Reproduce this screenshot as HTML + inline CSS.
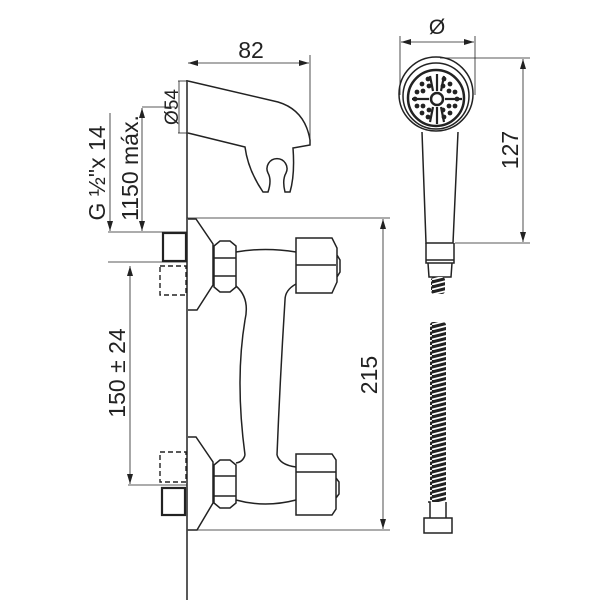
<!DOCTYPE html>
<html><head><style>html,body{margin:0;padding:0;background:#fff}svg{display:block}</style></head>
<body>
<svg width="600" height="600" viewBox="0 0 600 600" xmlns="http://www.w3.org/2000/svg" font-family="Liberation Sans, sans-serif">
<defs>
<marker id="a" viewBox="0 0 10 6" refX="10" refY="3" markerWidth="10" markerHeight="6" orient="auto-start-reverse" markerUnits="userSpaceOnUse"><path d="M0,0L10,3L0,6z" fill="#222"/></marker>
<pattern id="hz" width="16" height="5" patternUnits="userSpaceOnUse"><rect width="16" height="5" fill="#222"/><path d="M0,4.5L16,0.5" stroke="#fff" stroke-width="1.8"/></pattern>
</defs>
<g fill="none" stroke="#222" stroke-width="1.2">
<line x1="187" y1="80" x2="187" y2="600" stroke-width="1.5"/>
<line x1="310" y1="55" x2="310" y2="145" stroke-width="0.8"/>
<line x1="188" y1="63" x2="309" y2="63" stroke-width="0.8" marker-start="url(#a)" marker-end="url(#a)"/>
<path d="M188,81 L278,102 Q305,110 310,140 L310,145 L293,148 Q295,175 290,192 L285,192 Q282,180 286,173 A10,10 0 1 0 268,173 Q272,180 268,192 L263,192 Q248,170 245,147 L188,133" stroke-width="1.5"/>
<line x1="178" y1="81" x2="188" y2="81" stroke-width="0.8"/>
<line x1="178" y1="133" x2="188" y2="133" stroke-width="0.8"/>
<line x1="179" y1="81" x2="179" y2="133" stroke-width="0.8"/>
<line x1="142" y1="107" x2="175" y2="107" stroke-width="0.8"/>
<line x1="142" y1="108" x2="142" y2="231" stroke-width="0.8" marker-start="url(#a)" marker-end="url(#a)"/>
<line x1="110" y1="113" x2="110" y2="231" stroke-width="0.8" marker-end="url(#a)"/>
<line x1="108" y1="232" x2="187" y2="232" stroke-width="0.8"/>
<line x1="108" y1="262" x2="187" y2="262" stroke-width="0.8"/>
<line x1="130" y1="266" x2="130" y2="484" stroke-width="0.8" marker-start="url(#a)" marker-end="url(#a)"/>
<line x1="128" y1="485" x2="187" y2="485" stroke-width="0.8"/>
<line x1="187" y1="218" x2="390" y2="218" stroke-width="0.8"/>
<line x1="187" y1="530" x2="390" y2="530" stroke-width="0.8"/>
<line x1="383" y1="219" x2="383" y2="529" stroke-width="0.8" marker-start="url(#a)" marker-end="url(#a)"/>
<rect x="163" y="233" width="23" height="28" stroke-width="2.2"/>
<rect x="160" y="266" width="26" height="29" stroke-dasharray="5,3" stroke-width="1.4"/>
<rect x="160" y="452" width="26" height="30" stroke-dasharray="5,3" stroke-width="1.4"/>
<rect x="162" y="488" width="23" height="27" stroke-width="2.2"/>
<path d="M188,219 L196,219 L213,244 L213,285 L197,310 L188,310" stroke-width="1.5"/>
<path d="M214,246 L220,241 L230,241 L236,246 L236,287 L230,292 L220,292 L214,287 Z M214,258 L236,258 M214,276 L236,276" stroke-width="1.5"/>
<path d="M236,252 Q265,247 296,252 M236,286 Q250,298 245,320 M296,284 Q285,290 285,300" stroke-width="1.5"/>
<path d="M296,238 L332,238 L337,248 L337,282 L332,293 L296,293 Z M296,265 L336,265 M337,255 L340,260 L340,272 L337,277" stroke-width="1.5"/>
<path d="M245,320 Q235,380 245,455 M285,300 Q280,380 277,455" stroke-width="1.5"/>
<path d="M188,437 L196,437 L213,462 L213,503 L197,530 L188,530" stroke-width="1.5"/>
<path d="M214,465 L220,460 L230,460 L236,465 L236,503 L230,508 L220,508 L214,503 Z M214,476 L236,476 M214,496 L236,496" stroke-width="1.5"/>
<path d="M236,463 Q243,462 245,455 M277,455 Q280,465 296,467 M236,500 Q265,508 296,500" stroke-width="1.5"/>
<path d="M296,454 L332,454 L336,460 L336,509 L332,515 L296,515 Z M296,472 L336,472 M336,478 L339,482 L339,494 L336,498" stroke-width="1.5"/>
<line x1="400" y1="36" x2="400" y2="95" stroke-width="0.8"/>
<line x1="475" y1="36" x2="475" y2="95" stroke-width="0.8"/>
<line x1="401" y1="42" x2="474" y2="42" stroke-width="0.8" marker-start="url(#a)" marker-end="url(#a)"/>
<line x1="440" y1="58" x2="530" y2="58" stroke-width="0.8"/>
<line x1="455" y1="243" x2="530" y2="243" stroke-width="0.8"/>
<line x1="523" y1="59" x2="523" y2="242" stroke-width="0.8" marker-start="url(#a)" marker-end="url(#a)"/>
<circle cx="436" cy="94" r="37" stroke-width="1.5"/>
<circle cx="436" cy="96" r="33" stroke-width="1.5"/>
<circle cx="436" cy="98" r="28" stroke-width="2.5"/>
<circle cx="437" cy="99" r="6" stroke-width="2.5"/>
<g stroke-width="2.2">
<path d="M437,74 L437,91 M437,107 L437,124 M412,99 L429,99 M445,99 L462,99 M430,76 L433,91 M444,76 L441,91 M430,122 L433,107 M444,122 L441,107"/>
</g>
<path d="M422,132 L426,243 L453,243 L458,132" stroke-width="1.5"/>
<path d="M426,243 L426,263 L454,263 L454,243 M426,260 L454,260 M428,263 L429,277 L451,277 L452,263" stroke-width="1.5"/>
<path d="M428,502 L430,502 L430,518 L446,518 L446,502 M424,518 L452,518 L452,533 L424,533 Z" stroke-width="1.5"/>
</g>
<g fill="#222">
<g transform="translate(436,98)">
<circle cx="-14" cy="-14" r="2.4"/><circle cx="-8" cy="-19" r="2.4"/><circle cx="8" cy="-19" r="2.4"/><circle cx="14" cy="-14" r="2.4"/>
<circle cx="-19" cy="-6" r="2.4"/><circle cx="-13" cy="-7" r="2.4"/><circle cx="-7" cy="-12" r="2.4"/><circle cx="7" cy="-12" r="2.4"/><circle cx="13" cy="-7" r="2.4"/><circle cx="19" cy="-6" r="2.4"/>
<circle cx="-21" cy="1" r="2.4"/><circle cx="21" cy="1" r="2.4"/>
<circle cx="-19" cy="8" r="2.4"/><circle cx="-13" cy="8" r="2.4"/><circle cx="-7" cy="12" r="2.4"/><circle cx="7" cy="12" r="2.4"/><circle cx="13" cy="8" r="2.4"/><circle cx="19" cy="8" r="2.4"/>
<circle cx="-14" cy="15" r="2.4"/><circle cx="-8" cy="19" r="2.4"/><circle cx="8" cy="19" r="2.4"/><circle cx="14" cy="15" r="2.4"/>
</g>
<rect x="431" y="277" width="14" height="17" rx="3" fill="url(#hz)"/>
<rect x="430" y="322" width="16" height="180" rx="3" fill="url(#hz)"/>
</g>
<g fill="#222" font-size="23">
<text x="251" y="58" text-anchor="middle">82</text>
<text x="437" y="34" text-anchor="middle" font-size="21">Ø</text>
<text transform="translate(178,107) rotate(-90)" text-anchor="middle" font-size="19">Ø54</text>
<text transform="translate(138,168) rotate(-90)" text-anchor="middle">1150 máx.</text>
<text transform="translate(105,173) rotate(-90)" text-anchor="middle">G ½"x 14</text>
<text transform="translate(125,373) rotate(-90)" text-anchor="middle">150 ± 24</text>
<text transform="translate(377,375) rotate(-90)" text-anchor="middle">215</text>
<text transform="translate(518,150) rotate(-90)" text-anchor="middle">127</text>
</g>
</svg>
</body></html>
